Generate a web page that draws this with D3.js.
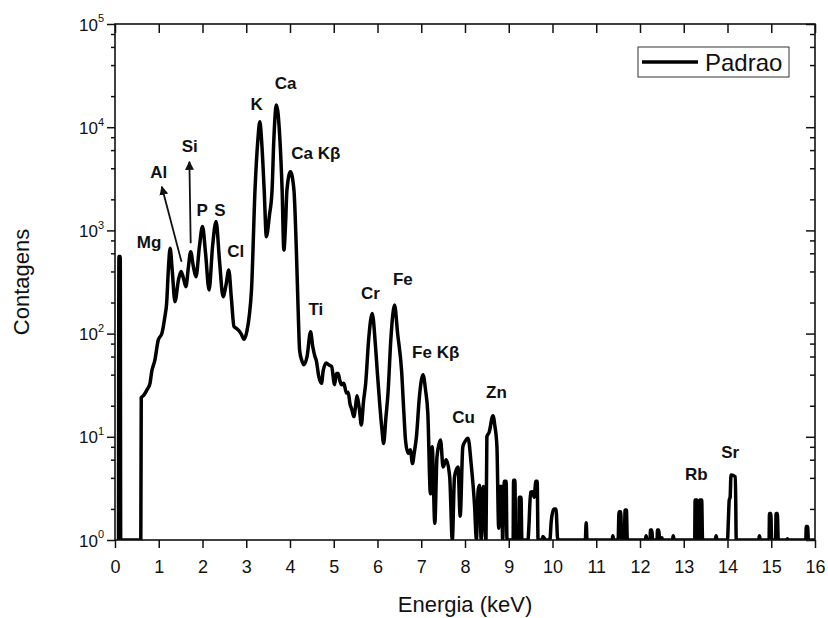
<html>
  <head>
    <meta charset="utf-8" />
    <script src="https://d3js.org/d3.v7.min.js"></script>
    <style>
      body { margin: 0; background: #fff; }
      text { font-family: Arial, "Liberation Sans", sans-serif; fill: #111; }
    </style>
  </head>
  <body>
    <div class="container"></div>
  </body>
</html>

<script>
  // spectrum (energy in keV, counts)
  const energy = [
    0.08, 0.09, 0.12, 0.13, 0.59, 0.60, 0.65, 0.72, 0.80, 0.84, 0.91, 0.99, 1.07, 1.14, 1.18,
    1.22, 1.26, 1.31, 1.37, 1.45, 1.51, 1.56, 1.62, 1.68, 1.73, 1.79, 1.85, 1.93, 2.00, 2.07,
    2.15, 2.23, 2.31, 2.39, 2.47, 2.54, 2.60, 2.66, 2.72, 2.78, 2.82, 2.88, 2.95, 3.02, 3.07,
    3.12, 3.20, 3.265, 3.31, 3.35, 3.41, 3.46, 3.53, 3.59, 3.63, 3.69, 3.77, 3.82, 3.86, 3.90,
    3.93, 4.01, 4.09, 4.15, 4.19, 4.22, 4.27, 4.32, 4.39, 4.47, 4.52, 4.57, 4.60, 4.66, 4.72,
    4.76, 4.83, 4.88, 4.95, 5.02, 5.06, 5.10, 5.14, 5.18, 5.23, 5.29, 5.33, 5.37, 5.42, 5.46,
    5.50, 5.53, 5.56, 5.59, 5.63, 5.68, 5.73, 5.80, 5.88, 5.95, 6.00, 6.05, 6.10, 6.14, 6.19,
    6.24, 6.31, 6.39, 6.46, 6.55, 6.60, 6.64, 6.70, 6.75, 6.80, 6.84, 6.89, 6.96, 7.04, 7.10,
    7.15, 7.21, 7.25, 7.31, 7.36, 7.44, 7.50, 7.57, 7.65, 7.71, 7.76, 7.84, 7.89, 7.95, 8.00,
    8.07, 8.14, 8.22, 8.26, 8.30, 8.33, 8.37, 8.42, 8.48, 8.50, 8.55, 8.64, 8.68, 8.73, 8.77,
    8.80, 8.84, 8.86, 8.90, 8.94, 8.96, 9.10, 9.11, 9.14, 9.16, 9.23, 9.24, 9.28, 9.30, 9.44,
    9.46, 9.50, 9.54, 9.58, 9.62, 9.65, 9.67, 9.76, 9.78, 9.85, 9.94, 9.97, 10.03, 10.08, 10.12,
    10.75, 10.77, 10.79, 11.36, 11.38, 11.40, 11.50, 11.52, 11.56, 11.58, 11.64, 11.66, 11.69, 11.71, 12.12,
    12.14, 12.16, 12.23, 12.24, 12.27, 12.29, 12.39, 12.40, 12.43, 12.45, 12.50, 12.52, 12.74, 12.76, 12.78,
    13.25, 13.26, 13.30, 13.32, 13.36, 13.37, 13.41, 13.43, 13.72, 13.74, 13.76, 14.00, 14.02, 14.04, 14.06,
    14.08, 14.18, 14.20, 14.71, 14.73, 14.75, 14.95, 14.96, 14.99, 15.01, 15.10, 15.11, 15.14, 15.16, 15.35,
    15.37, 15.39, 15.79, 15.80, 15.83, 15.85, 16.00
  ];
  const counts = [
    1, 560, 560, 1, 1, 24, 25, 28, 33, 43, 55, 87, 100, 146, 196,
    420, 670, 400, 204, 330, 400, 350, 285, 450, 620, 450, 355, 700, 1090, 600,
    265, 700, 1220, 500, 228, 300, 413, 220, 117, 112, 108, 100, 88, 108, 150,
    265, 2460, 7500, 11300, 7500, 2460, 870, 1400, 2460, 7500, 16400, 7500, 2460, 645, 1200,
    2460, 3700, 2460, 556, 150, 69, 55, 50, 60, 104, 75, 60, 55, 38, 33,
    44, 52, 50, 48, 32, 41, 41, 35, 32, 33, 26.5, 27, 21, 18, 15.7,
    20, 25, 22, 18, 13, 22, 33, 90, 157, 80, 40, 21, 12, 8.6, 15,
    26.5, 95, 189, 100, 44, 18, 9.3, 6.9, 7.5, 5.5, 7, 10, 25, 40, 28,
    17, 2.8, 8, 1.45, 6.4, 9.3, 5.1, 6, 4.1, 1, 4.1, 5.1, 1.7, 8, 9,
    9.7, 5.5, 2.1, 1, 3, 3.4, 1, 3.3, 1, 10, 11, 16, 13, 8, 1.3,
    3.3, 3.3, 1, 3.7, 3.7, 1, 1, 3.8, 3.8, 1, 1, 2.6, 2.6, 1, 1,
    1.35, 2.9, 2.94, 2.6, 3.7, 3.7, 1, 1, 1.08, 1, 1, 1.5, 2.0, 2.0, 1,
    1, 1.47, 1, 1, 1.1, 1, 1, 1.88, 1.88, 1, 1, 1.95, 1.95, 1, 1,
    1.1, 1, 1, 1.25, 1.25, 1, 1, 1.25, 1.25, 1, 1.05, 1, 1, 1.1, 1,
    1, 2.44, 2.44, 1, 1, 2.44, 2.44, 1, 1, 1.1, 1, 1, 1.56, 2.44, 2.6,
    4.27, 4.1, 1, 1, 1.1, 1, 1, 1.81, 1.81, 1, 1, 1.81, 1.81, 1, 1,
    1.03, 1, 1, 1.35, 1.35, 1, 1
  ];

  // peak labels, anchored in data coordinates (label centre, text baseline)
  const labelNames = ["Mg", "Al", "Si", "P", "S", "Cl", "K", "Ca", "Ca K\u03b2", "Ti", "Cr", "Fe", "Fe K\u03b2", "Cu", "Zn", "Rb", "Sr"];
  const labelEnergy = [0.78, 1.00, 1.71, 1.99, 2.40, 2.76, 3.24, 3.90, 4.59, 4.59, 5.84, 6.58, 7.33, 7.97, 8.72, 13.29, 14.06];
  const labelCounts = [675, 3220, 5750, 1380, 1380, 552, 14700, 23400, 4920, 151, 216, 296, 58, 13.6, 23.8, 3.81, 6.23];

  // arrows for Al and Si: [from energy, from counts, to energy, to counts]
  const arrows = [
    [1.52, 497, 1.07, 2650],
    [1.73, 750, 1.70, 4630]
  ];

  const xTicks = d3.range(0, 17);
  const yMajor = [1, 10, 100, 1000, 10000, 100000];
  const yMinor = [];
  yMajor.slice(0, -1).forEach((d) => [2, 4, 6, 8].forEach((m) => yMinor.push(d * m)));

  const seriesName = "Padrao";

  const width = 828;
  const height = 618;
  const margin = { top: 24, right: 13, bottom: 78, left: 115 };
  const iw = width - margin.left - margin.right;
  const ih = height - margin.top - margin.bottom;

  const svg = d3
    .select(".container")
    .append("svg")
    .attr("width", width)
    .attr("height", height);

  const g = svg.append("g").attr("transform", `translate(${margin.left},${margin.top})`);

  const x = d3.scaleLinear().domain([0, 16]).range([0, iw]);
  const y = d3.scaleLog().domain([1, 100000]).range([ih, 0]);

  g.append("clipPath")
    .attr("id", "plot")
    .append("rect")
    .attr("width", iw)
    .attr("height", ih);

  const points = energy.map((e, i) => [e, counts[i]]);

  g.append("path")
    .datum(points)
    .attr("clip-path", "url(#plot)")
    .attr("fill", "none")
    .attr("stroke", "#000")
    .attr("stroke-width", 3.5)
    .attr("stroke-linejoin", "round")
    .attr(
      "d",
      d3
        .line()
        .x((d) => x(d[0]))
        .y((d) => y(d[1]))
        .curve(d3.curveMonotoneX)
    );

  // axes
  const styleAxis = (sel) => {
    sel.select(".domain").remove();
    sel.selectAll(".tick line").attr("stroke", "#111").attr("stroke-width", 1.5);
  };

  g.append("g")
    .attr("transform", `translate(0,${ih})`)
    .call(d3.axisBottom(x).tickValues(xTicks).tickSize(8).tickPadding(12).tickFormat(d3.format("d")))
    .call(styleAxis)
    .call((s) => s.selectAll("text").attr("font-size", 18).attr("fill", "#111"));

  g.append("g")
    .call(d3.axisTop(x).tickValues(xTicks).tickSize(-9).tickFormat(""))
    .call(styleAxis);

  const left = g
    .append("g")
    .call(d3.axisLeft(y).tickValues(yMajor).tickSize(8).tickPadding(10).tickFormat(() => "10"))
    .call(styleAxis);
  left
    .selectAll(".tick text")
    .attr("font-size", 17)
    .attr("fill", "#111")
    .attr("dy", "0.36em")
    .attr("x", -10)
    .attr("dx", -1)
    .append("tspan")
    .attr("font-size", 11)
    .attr("dy", "-0.75em")
    .text((d) => Math.round(Math.log10(d)));

  g.append("g")
    .call(d3.axisLeft(y).tickValues(yMinor).tickSize(4).tickFormat(""))
    .call(styleAxis);

  g.append("g")
    .attr("transform", `translate(${iw},0)`)
    .call(d3.axisRight(y).tickValues(yMajor).tickSize(-9).tickFormat(""))
    .call(styleAxis);

  g.append("g")
    .attr("transform", `translate(${iw},0)`)
    .call(d3.axisRight(y).tickValues(yMinor).tickSize(-5).tickFormat(""))
    .call(styleAxis);

  g.append("rect")
    .attr("width", iw)
    .attr("height", ih)
    .attr("fill", "none")
    .attr("stroke", "#111")
    .attr("stroke-width", 1.6);

  // arrowhead
  svg
    .append("defs")
    .append("marker")
    .attr("id", "head")
    .attr("viewBox", "0 0 10 10")
    .attr("refX", 9)
    .attr("refY", 5)
    .attr("markerWidth", 9)
    .attr("markerHeight", 9)
    .attr("markerUnits", "userSpaceOnUse")
    .attr("orient", "auto")
    .append("path")
    .attr("d", "M0,0L10,5L0,10Z")
    .attr("fill", "#111");

  g.append("g")
    .selectAll("line")
    .data(arrows)
    .join("line")
    .attr("x1", (d) => x(d[0]))
    .attr("y1", (d) => y(d[1]))
    .attr("x2", (d) => x(d[2]))
    .attr("y2", (d) => y(d[3]))
    .attr("stroke", "#111")
    .attr("stroke-width", 1.8)
    .attr("marker-end", "url(#head)");

  g.append("g")
    .selectAll("text")
    .data(labelNames)
    .join("text")
    .attr("x", (d, i) => x(labelEnergy[i]))
    .attr("y", (d, i) => y(labelCounts[i]))
    .attr("text-anchor", "middle")
    .attr("font-size", 17)
    .attr("font-weight", "bold")
    .text((d) => d);

  // axis titles
  svg
    .append("text")
    .attr("x", margin.left + iw / 2)
    .attr("y", 612)
    .attr("text-anchor", "middle")
    .attr("font-size", 22)
    .text("Energia (keV)");

  svg
    .append("text")
    .attr("transform", `translate(29,${margin.top + ih / 2}) rotate(-90)`)
    .attr("text-anchor", "middle")
    .attr("font-size", 22)
    .text("Contagens");

  // legend
  const lg = svg.append("g").attr("transform", "translate(638,47)");
  lg.append("rect")
    .attr("width", 151)
    .attr("height", 30)
    .attr("fill", "#fff")
    .attr("stroke", "#333")
    .attr("stroke-width", 1);
  lg.append("line")
    .attr("x1", 4)
    .attr("x2", 60)
    .attr("y1", 15)
    .attr("y2", 15)
    .attr("stroke", "#000")
    .attr("stroke-width", 3.5);
  lg.append("text")
    .attr("x", 67)
    .attr("y", 24)
    .attr("font-size", 24)
    .text(seriesName);
</script>
